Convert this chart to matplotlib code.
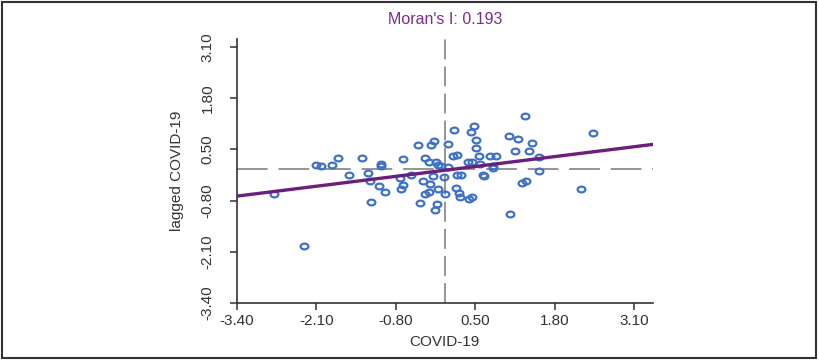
import numpy as np
import matplotlib
matplotlib.use("Agg")
import matplotlib.pyplot as plt
from matplotlib.path import Path
from matplotlib.patches import Rectangle

plt.rcParams['font.family'] = ['Liberation Sans', 'DejaVu Sans']

# standardised variable and its spatial lag
covid = [-2.79, -2.30, -2.10, -2.02, -1.84, -1.75, -1.56, -1.36, -1.26, -1.23,
         -1.20, -1.08, -1.04, -1.04, -0.98, -0.74, -0.71, -0.68, -0.69, -0.56,
         -0.44, -0.40, -0.35, -0.32, -0.32, -0.26, -0.24, -0.23, -0.26, -0.20,
         -0.17, -0.16, -0.13, -0.11, -0.14, -0.12, -0.07, -0.02, 0.01, 0.05,
         0.05, 0.15, 0.14, 0.18, 0.20, 0.20, 0.23, 0.24, 0.26, 0.38,
         0.40, 0.42, 0.45, 0.48, 0.45, 0.51, 0.51, 0.56, 0.57, 0.63,
         0.64, 0.74, 0.84, 0.78, 0.79, 1.05, 1.06, 1.14, 1.20, 1.26,
         1.31, 1.33, 1.37, 1.43, 1.54, 1.54, 2.22, 2.42]
lagged = [-0.63, -1.96, 0.10, 0.08, 0.10, 0.28, -0.14, 0.28, -0.10, -0.30,
          -0.84, -0.44, 0.12, 0.08, -0.57, -0.23, -0.51, -0.40, 0.25, -0.14,
          0.60, -0.87, -0.30, 0.28, -0.63, 0.19, -0.38, 0.61, -0.59, -0.17,
          0.71, -1.05, -0.89, -0.50, 0.19, 0.11, 0.08, -0.21, -0.64, 0.64,
          0.05, 0.98, 0.33, -0.47, 0.37, -0.15, -0.62, -0.70, -0.15, 0.17,
          -0.75, 0.93, -0.72, 1.10, 0.17, 0.74, 0.53, 0.33, 0.14, -0.15,
          -0.17, 0.34, 0.34, 0.04, 0.09, 0.83, -1.14, 0.46, 0.77, -0.36,
          1.34, -0.30, 0.46, 0.67, 0.31, -0.06, -0.51, 0.91]

morans_i = 0.193
intercept = -0.03
ticks = [-3.40, -2.10, -0.80, 0.50, 1.80, 3.10]

fig = plt.figure(figsize=(8.2, 3.62), dpi=100)
ax = fig.add_axes([0.289, 0.163, 0.507, 0.729])

# the source image is stretched sideways, so use a wide ellipse marker
circ = Path.unit_circle()
ellipse = Path(circ.vertices * np.array([1.35, 1.0]), circ.codes)

ax.axvline(0, color='#8c8c8c', lw=1.3, dashes=(11, 4), zorder=1)
ax.axhline(0, color='#8c8c8c', lw=1.3, dashes=(17, 6), zorder=1)

ax.plot(covid, lagged, ls='none', marker=ellipse, ms=5.6, mfc='none',
        mec='#3f72c6', mew=1.6, zorder=2)

xs = np.array([-3.4, 3.4])
ax.plot(xs, intercept + morans_i * xs, color='#6a1f7c', lw=2.4, zorder=3)

ax.set_xlim(-3.4, 3.4)
ax.set_ylim(-3.4, 3.3)
ax.set_xticks(ticks)
ax.set_yticks(ticks)
ax.set_xticklabels(['%.2f' % t for t in ticks], fontsize=11)
ax.set_yticklabels(['%.2f' % t for t in ticks], fontsize=11, rotation=90,
                   va='center')
ax.tick_params(direction='out', length=5, width=1.1, color='#333333',
               labelcolor='#333333', pad=3)
ax.tick_params(axis='y', pad=11)

for s in ['top', 'right']:
    ax.spines[s].set_visible(False)
for s in ['left', 'bottom']:
    ax.spines[s].set_color('#333333')
    ax.spines[s].set_linewidth(1.2)

ax.set_xlabel('COVID-19', fontsize=11, color='#333333', labelpad=5)
ax.set_ylabel('lagged COVID-19', fontsize=11, color='#333333', labelpad=12)
ax.set_title("Moran's I: 0.193", fontsize=11.5, color='#7b2d8e', pad=11)

fig.patches.append(Rectangle((0.003, 0.012), 0.992, 0.983,
                             transform=fig.transFigure, fill=False,
                             edgecolor='#333333', lw=1.5))

fig.savefig('out.png', dpi=100)
